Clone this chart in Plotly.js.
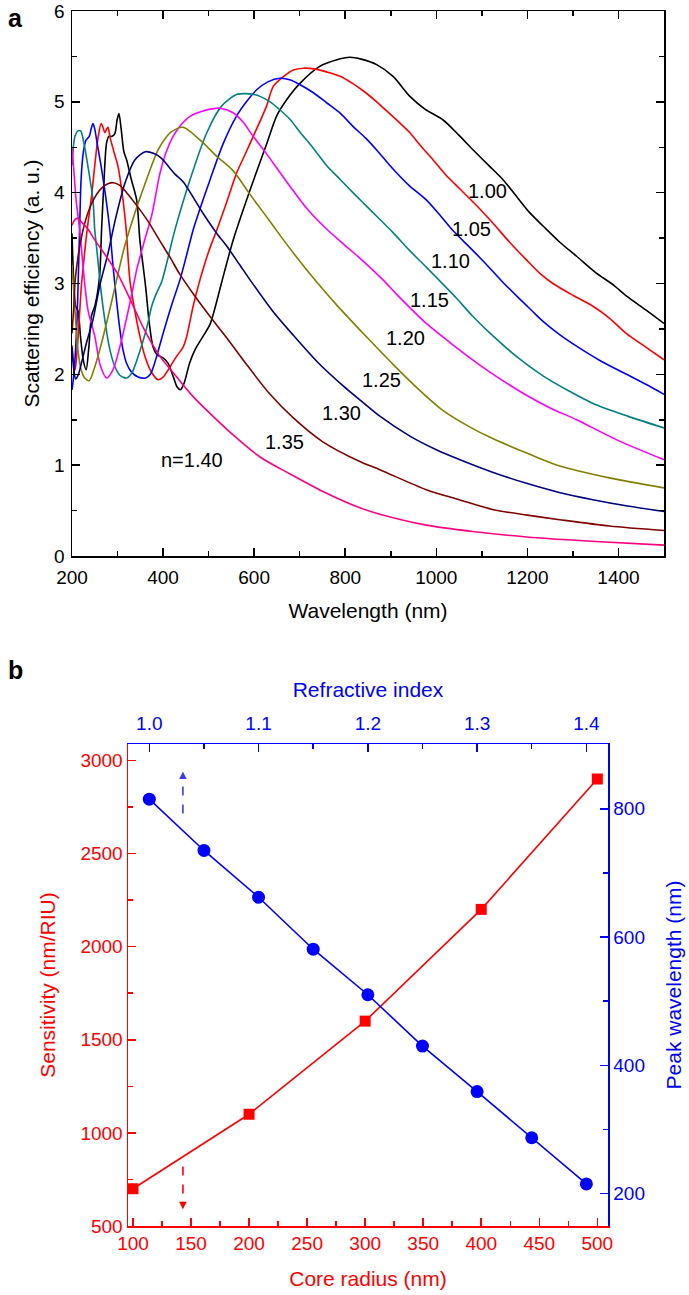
<!DOCTYPE html>
<html><head><meta charset="utf-8">
<script src="https://cdn.plot.ly/plotly-3.0.1.min.js"></script>
<style>html,body{margin:0;padding:0;background:#fff}#chart{width:689px;height:1295px}</style>
</head><body><div id="chart"></div>
<script>
// ---------- Panel a : scattering efficiency spectra ----------
const wl_100 = [200,204,208,213,219,225,231,237,243,250,256,261,265,270,276,281,288,294,299,303,308,314,320,330,342,349,356,362,370,378,386,400,411,422,431,438,446,458,470,488,503,515,528,554,591,627,650,671,700,744,780,810,835,869,905,942,975,1015,1050,1081,1115,1147,1176,1205,1235,1270,1308,1350,1390,1418,1460,1500];
const eff_100 = [3.55,3.0,2.75,2.7,2.4,2.15,2.05,2.3,2.65,2.75,2.9,3.1,3.6,4.1,4.55,4.62,4.62,4.65,4.8,4.87,4.7,4.45,4.36,4.15,3.92,3.48,3.2,2.95,2.55,2.3,2.22,2.18,2.12,1.98,1.86,1.83,1.9,2.12,2.27,2.42,2.55,2.75,3.0,3.48,4.03,4.53,4.85,5.02,5.2,5.39,5.46,5.49,5.47,5.41,5.28,5.06,4.92,4.8,4.63,4.47,4.3,4.14,3.96,3.78,3.63,3.46,3.3,3.12,2.98,2.86,2.71,2.56];

const wl_105 = [200,203,207,211,214,217,221,224,230,236,242,250,257,264,268,272,276,279,284,292,301,312,319,327,338,349,360,375,389,400,415,430,444,452,466,481,500,518,540,561,580,598,627,642,665,686,708,735,759,790,817,845,869,891,915,942,965,993,1020,1052,1090,1125,1160,1198,1230,1256,1300,1344,1380,1417,1460,1500];
const eff_105 = [2.32,2.15,2.05,2.25,2.45,2.7,3.0,3.15,3.45,3.7,3.92,4.3,4.6,4.76,4.72,4.66,4.7,4.72,4.6,4.45,4.29,3.92,3.59,3.04,2.7,2.42,2.2,2.02,1.94,1.97,2.08,2.2,2.3,2.42,2.75,3.04,3.35,3.59,3.9,4.21,4.42,4.62,4.95,5.17,5.28,5.35,5.37,5.36,5.33,5.28,5.2,5.1,5.0,4.9,4.79,4.66,4.52,4.36,4.2,4.04,3.85,3.66,3.46,3.26,3.1,3.0,2.87,2.75,2.62,2.45,2.3,2.16];

const wl_110 = [200,203,207,211,214,217,220,225,231,238,242,246,250,255,264,275,283,290,297,305,312,320,330,345,362,372,380,386,400,418,437,450,466,485,503,532,561,583,605,630,657,680,700,730,759,790,817,845,869,905,940,978,1010,1037,1075,1110,1145,1183,1210,1235,1270,1308,1360,1418,1460,1500];
const eff_110 = [1.83,1.95,2.2,2.6,3.1,3.65,4.15,4.45,4.58,4.62,4.7,4.76,4.7,4.55,4.29,3.92,3.59,3.2,2.85,2.5,2.27,2.12,2.03,1.97,1.96,2.0,2.1,2.2,2.45,2.75,3.04,3.28,3.59,3.88,4.14,4.54,4.84,5.0,5.13,5.22,5.26,5.24,5.19,5.1,4.99,4.87,4.73,4.6,4.47,4.26,4.08,3.92,3.74,3.58,3.39,3.21,3.02,2.83,2.7,2.58,2.44,2.31,2.15,2.0,1.89,1.78];

const wl_115 = [200,204,207,213,219,226,235,246,250,256,263,272,282,293,305,320,332,342,355,366,375,386,397,426,459,496,528,561,580,600,613,635,657,680,700,730,759,790,817,845,869,905,940,978,1015,1044,1080,1125,1180,1235,1290,1344,1420,1500];
const eff_115 = [4.3,4.55,4.63,4.68,4.68,4.55,4.29,3.92,3.59,3.3,2.95,2.6,2.3,2.1,1.99,1.96,2.02,2.15,2.35,2.55,2.75,2.9,3.02,3.59,4.14,4.66,4.95,5.08,5.09,5.08,5.06,5.0,4.91,4.8,4.67,4.49,4.3,4.14,4.0,3.86,3.74,3.56,3.37,3.18,2.99,2.84,2.64,2.42,2.18,1.98,1.82,1.68,1.54,1.41];

const wl_120 = [200,204,209,217,225,235,250,262,276,290,305,320,332,342,358,375,393,407,422,440,459,488,525,554,575,598,627,657,686,720,759,795,832,883,913,978,1030,1088,1140,1198,1250,1308,1400,1500];
const eff_120 = [4.5,4.25,3.92,3.59,3.15,2.71,2.42,2.1,1.96,2.05,2.3,2.62,2.9,3.15,3.45,3.75,4.21,4.45,4.62,4.75,4.84,4.9,4.93,4.88,4.78,4.62,4.43,4.22,4.02,3.8,3.6,3.44,3.28,3.04,2.88,2.56,2.35,2.13,1.95,1.77,1.63,1.5,1.27,1.06];

const wl_125 = [200,204,208,213,220,228,238,248,261,280,298,315,330,345,359,375,389,405,418,444,481,518,554,591,625,657,690,730,780,832,876,905,960,1015,1070,1125,1200,1271,1380,1500];
const eff_125 = [3.2,2.9,2.6,2.27,2.05,1.96,1.93,2.05,2.27,2.65,3.04,3.4,3.65,3.88,4.08,4.3,4.47,4.6,4.67,4.72,4.58,4.4,4.24,3.98,3.75,3.53,3.31,3.06,2.77,2.49,2.26,2.11,1.84,1.6,1.43,1.29,1.13,0.99,0.86,0.75];

const wl_130 = [200,204,208,214,222,232,246,262,279,295,316,338,361,380,396,425,444,488,518,540,569,591,640,686,740,796,832,876,942,1000,1052,1125,1198,1270,1344,1420,1500];
const eff_130 = [2.3,2.05,1.95,2.0,2.15,2.35,2.6,3.0,3.33,3.7,4.1,4.36,4.45,4.43,4.38,4.21,4.12,3.77,3.55,3.41,3.2,3.04,2.7,2.43,2.13,1.87,1.72,1.54,1.32,1.17,1.06,0.92,0.8,0.7,0.62,0.55,0.49];

const wl_135 = [200,204,207,212,218,230,247,265,280,291,305,320,342,365,393,415,437,470,518,540,580,635,686,750,832,876,978,1050,1125,1200,1271,1380,1500];
const eff_135 = [2.45,2.75,3.04,3.25,3.44,3.7,3.92,4.05,4.1,4.11,4.08,4.0,3.86,3.7,3.47,3.29,3.1,2.86,2.54,2.4,2.13,1.78,1.52,1.26,1.04,0.95,0.73,0.62,0.51,0.45,0.4,0.33,0.28];

const wl_140 = [200,206,213,220,235,250,275,301,330,358,390,430,465,503,550,613,680,759,832,876,978,1080,1198,1350,1500];
const eff_140 = [3.64,3.7,3.72,3.68,3.6,3.48,3.3,3.1,2.8,2.5,2.22,1.97,1.76,1.57,1.35,1.09,0.9,0.69,0.53,0.46,0.34,0.27,0.21,0.16,0.12];

const seriesNames = ['1.00','1.05','1.10','1.15','1.20','1.25','1.30','1.35','1.40'];
const seriesColors = ['#000000','#ff0000','#0000ff','#008080','#ff00ff','#808000','#000080','#800000','#ff0080'];
const seriesX = [wl_100,wl_105,wl_110,wl_115,wl_120,wl_125,wl_130,wl_135,wl_140];
const seriesY = [eff_100,eff_105,eff_110,eff_115,eff_120,eff_125,eff_130,eff_135,eff_140];
const curveLabels = ['1.00','1.05','1.10','1.15','1.20','1.25','1.30','1.35','n=1.40'];
const labelWl  = [1113,1078,1032,986,933,879,791,666,463];
const labelEff = [4.02,3.60,3.25,2.82,2.40,1.94,1.57,1.26,1.06];

// ---------- Panel b : sensitivity and peak wavelength ----------
const coreRadius  = [100,200,300,400,500];
const sensitivity = [700,1100,1600,2200,2900];
const refIndex    = [1.00,1.05,1.10,1.15,1.20,1.25,1.30,1.35,1.40];
const peakWl      = [815,735,662,581,510,430,359,287,215];

const FONT = 'Liberation Sans, Arial, sans-serif';
const W = 689, H = 1295;
const px = x => x / W;
const py = y => 1 - y / H;
const RED = '#ff0000', BLUE = '#0000ff';

const traces = [];
for (let i = 0; i < seriesX.length; i++) {
  traces.push({
    x: seriesX[i], y: seriesY[i], xaxis: 'x', yaxis: 'y', name: 'n=' + seriesNames[i],
    type: 'scatter', mode: 'lines',
    line: {color: seriesColors[i], width: 1.6, shape: 'spline', smoothing: 0.8},
    hoverinfo: 'x+y+name'
  });
}
traces.push({
  x: coreRadius, y: sensitivity, xaxis: 'x2', yaxis: 'y2', name: 'Sensitivity',
  type: 'scatter', mode: 'lines+markers',
  line: {color: RED, width: 1.6}, marker: {symbol: 'square', size: 11, color: RED}
});
traces.push({
  x: refIndex, y: peakWl, xaxis: 'x3', yaxis: 'y3', name: 'Peak wavelength',
  type: 'scatter', mode: 'lines+markers',
  line: {color: BLUE, width: 1.6}, marker: {symbol: 'circle', size: 13, color: BLUE}
});

function axisBase(color) {
  return {
    showline: true, linecolor: color, linewidth: 1.5, ticks: 'inside', ticklen: 8,
    tickwidth: 1.5, tickcolor: color, showgrid: false, zeroline: false,
    tickfont: {family: FONT, size: 19, color: color}, automargin: false
  };
}

const annotations = [];
for (let i = 0; i < curveLabels.length; i++) {
  annotations.push({x: labelWl[i], y: labelEff[i], xref: 'x', yref: 'y', text: curveLabels[i],
    showarrow: false, font: {family: FONT, size: 20, color: '#000'}});
}
annotations.push({x: px(6), y: py(2), xref: 'paper', yref: 'paper', xanchor: 'left', yanchor: 'top',
  text: '<b>a</b>', showarrow: false, font: {family: FONT, size: 25, color: '#000'}});
annotations.push({x: px(6), y: py(654), xref: 'paper', yref: 'paper', xanchor: 'left', yanchor: 'top',
  text: '<b>b</b>', showarrow: false, font: {family: FONT, size: 25, color: '#000'}});
// arrow heads for the dashed arrows
annotations.push({x: 143, y: 2940, xref: 'x2', yref: 'y2', ax: 0, ay: 9, showarrow: true,
  arrowhead: 2, arrowsize: 1, arrowwidth: 1.5, arrowcolor: '#3a3aff', text: ''});
annotations.push({x: 143, y: 590, xref: 'x2', yref: 'y2', ax: 0, ay: -9, showarrow: true,
  arrowhead: 2, arrowsize: 1, arrowwidth: 1.5, arrowcolor: RED, text: ''});

const shapes = [
  {type: 'line', xref: 'x2', yref: 'y2', x0: 143, x1: 143, y0: 2715, y1: 2900,
   line: {color: '#3a3aff', width: 1.6, dash: 'dash'}},
  {type: 'line', xref: 'x2', yref: 'y2', x0: 143, x1: 143, y0: 820, y1: 630,
   line: {color: RED, width: 1.6, dash: 'dash'}}
];

const layout = {
  width: W, height: H, margin: {l: 0, r: 0, t: 0, b: 0}, showlegend: false,
  paper_bgcolor: '#ffffff', plot_bgcolor: 'rgba(0,0,0,0)',
  font: {family: FONT, size: 19, color: '#000'},
  xaxis: Object.assign(axisBase('#000'), {
    domain: [px(72), px(664)], range: [200, 1500], anchor: 'y', mirror: 'ticks',
    tick0: 200, dtick: 200, ticklabelstandoff: 4,
    minor: {dtick: 100, ticks: 'inside', ticklen: 5, tickwidth: 1.5, tickcolor: '#000'},
    title: {text: 'Wavelength (nm)', font: {family: FONT, size: 21, color: '#000'}, standoff: 16}
  }),
  yaxis: Object.assign(axisBase('#000'), {
    domain: [py(556), py(11)], range: [0, 6], anchor: 'x', mirror: 'ticks',
    tick0: 0, dtick: 1, ticklabelstandoff: 2,
    minor: {dtick: 0.5, ticks: 'inside', ticklen: 5, tickwidth: 1.5, tickcolor: '#000'},
    title: {text: 'Scattering efficiency (a. u.)', font: {family: FONT, size: 21, color: '#000'}, standoff: 9}
  }),
  xaxis2: Object.assign(axisBase(RED), {
    domain: [px(128), px(608)], range: [95.7, 509.2], anchor: 'y2', side: 'bottom',
    tick0: 100, dtick: 50, minor: {dtick: 25, ticks: 'inside', ticklen: 5, tickwidth: 1.5, tickcolor: RED},
    title: {text: 'Core radius (nm)', font: {family: FONT, size: 21, color: RED}, standoff: 18}
  }),
  yaxis2: Object.assign(axisBase(RED), {
    domain: [py(1226), py(744)], range: [500, 3088], anchor: 'x2', side: 'left',
    tick0: 500, dtick: 500, minor: {dtick: 250, ticks: 'inside', ticklen: 5, tickwidth: 1.5, tickcolor: RED},
    title: {text: 'Sensitivity (nm/RIU)', font: {family: FONT, size: 21, color: RED}, standoff: 19}
  }),
  xaxis3: Object.assign(axisBase(BLUE), {
    overlaying: 'x2', side: 'top', anchor: 'y2', range: [0.9805, 1.4198],
    tick0: 1.0, dtick: 0.1, tickformat: '.1f', ticklabelstandoff: 5,
    minor: {dtick: 0.05, ticks: 'inside', ticklen: 5, tickwidth: 1.5, tickcolor: BLUE},
    title: {text: 'Refractive index', font: {family: FONT, size: 21, color: BLUE}, standoff: 9}
  }),
  yaxis3: Object.assign(axisBase(BLUE), {
    overlaying: 'y2', side: 'right', anchor: 'x2', range: [149.4, 901],
    tick0: 200, dtick: 200, minor: {dtick: 100, ticks: 'inside', ticklen: 5, tickwidth: 1.5, tickcolor: BLUE},
    title: {text: 'Peak wavelength (nm)', font: {family: FONT, size: 21, color: BLUE}, standoff: 22}
  }),
  annotations: annotations,
  shapes: shapes
};

Plotly.newPlot('chart', traces, layout, {displayModeBar: false, staticPlot: true});
</script></body></html>
